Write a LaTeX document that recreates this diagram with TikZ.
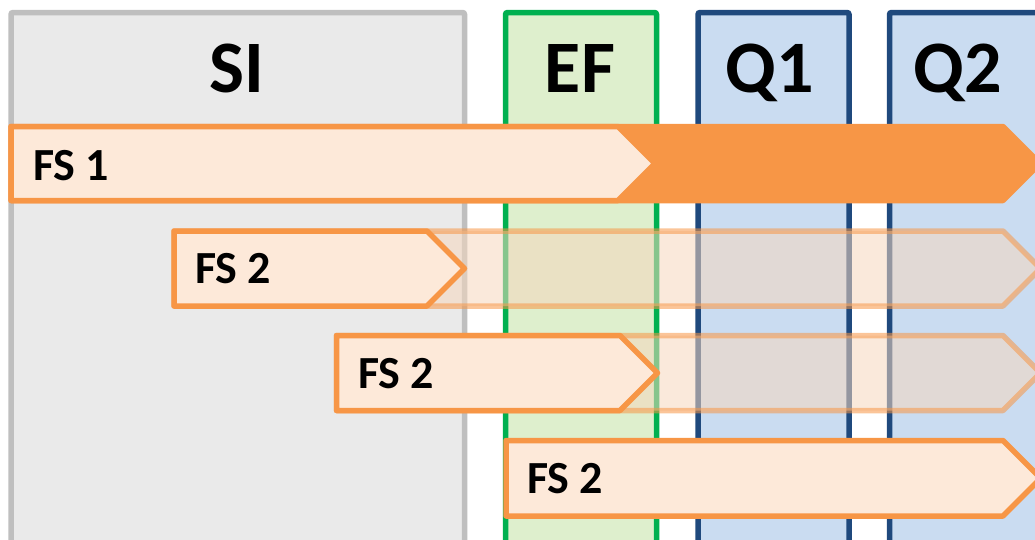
\documentclass[tikz,border=0pt]{standalone}
\usepackage{fontspec}
\setmainfont{Carlito}
\definecolor{siFill}{RGB}{234,234,234}
\definecolor{siLine}{RGB}{191,191,191}
\definecolor{efFill}{RGB}{222,239,205}
\definecolor{efLine}{RGB}{0,176,80}
\definecolor{qFill}{RGB}{202,220,241}
\definecolor{qLine}{RGB}{31,73,125}
\definecolor{fsOrange}{RGB}{247,150,70}
\definecolor{fsLight}{RGB}{253,233,217}
\definecolor{fsGhost}{RGB}{245,215,190}
\begin{document}
\begin{tikzpicture}[x=1pt,y=-1pt,
  column/.style={line width=5.5pt,rounded corners=2pt},
  fsbar/.style={draw=fsOrange,fill=fsLight,line width=5.5pt,line join=round},
  fsfull/.style={draw=fsOrange,fill=fsOrange,line width=5.5pt,line join=round},
  fsghost/.style={draw=fsOrange,fill=fsGhost,line width=5.5pt,line join=round,
                  draw opacity=0.55,fill opacity=0.55},
  header/.style={font=\fontsize{74}{80}\selectfont\bfseries,inner sep=0pt,anchor=base},
  fslabel/.style={font=\fontsize{46}{50}\selectfont\bfseries,inner sep=0pt,anchor=base west}]
\useasboundingbox (0,0) rectangle (1035,539);
\clip (0,0) rectangle (1035,539);

% phase columns
\draw[column,draw=siLine,fill=siFill] (11,12.5) rectangle (464.5,580);
\draw[column,draw=efLine,fill=efFill] (505.5,12.5) rectangle (656.5,580);
\draw[column,draw=qLine,fill=qFill] (698,12.5) rectangle (849,580);
\draw[column,draw=qLine,fill=qFill] (889.5,12.5) rectangle (1040.5,580);

\node[header] (si) at (237,92) {SI};
\node[header] (ef) at (580,92) {EF};
\node[header] (qone) at (770,92) {Q1};
\node[header] (qtwo) at (958,92) {Q2};

% FS 1: full-length bar with its completed part on top
\draw[fsfull] (11,126.5) -- (1003,126.5) -- (1040,163.5) -- (1003,200.5) -- (11,200.5) -- cycle;
\draw[fsbar] (11,126.5) -- (618,126.5) -- (655,163.5) -- (618,200.5) -- (11,200.5) -- cycle;
\node[fslabel] (fsone) at (33,180) {FS 1};

% FS 2, first start
\draw[fsghost] (174,231) -- (1003,231) -- (1040.5,268.5) -- (1003,306) -- (174,306) -- cycle;
\draw[fsbar] (174,231) -- (427,231) -- (464.5,268.5) -- (427,306) -- (174,306) -- cycle;
\node[fslabel] (fstwoa) at (195,283) {FS 2};

% FS 2, second start
\draw[fsghost] (336.5,335.5) -- (1003,335.5) -- (1040.5,373) -- (1003,410.5) -- (336.5,410.5) -- cycle;
\draw[fsbar] (336.5,335.5) -- (620,335.5) -- (657.5,373) -- (620,410.5) -- (336.5,410.5) -- cycle;
\node[fslabel] (fstwob) at (358,388) {FS 2};

% FS 2, third start
\draw[fsbar] (506,440.5) -- (1003,440.5) -- (1040.75,478.25) -- (1003,516) -- (506,516) -- cycle;
\node[fslabel] (fstwoc) at (527,493) {FS 2};
\end{tikzpicture}
\end{document}
